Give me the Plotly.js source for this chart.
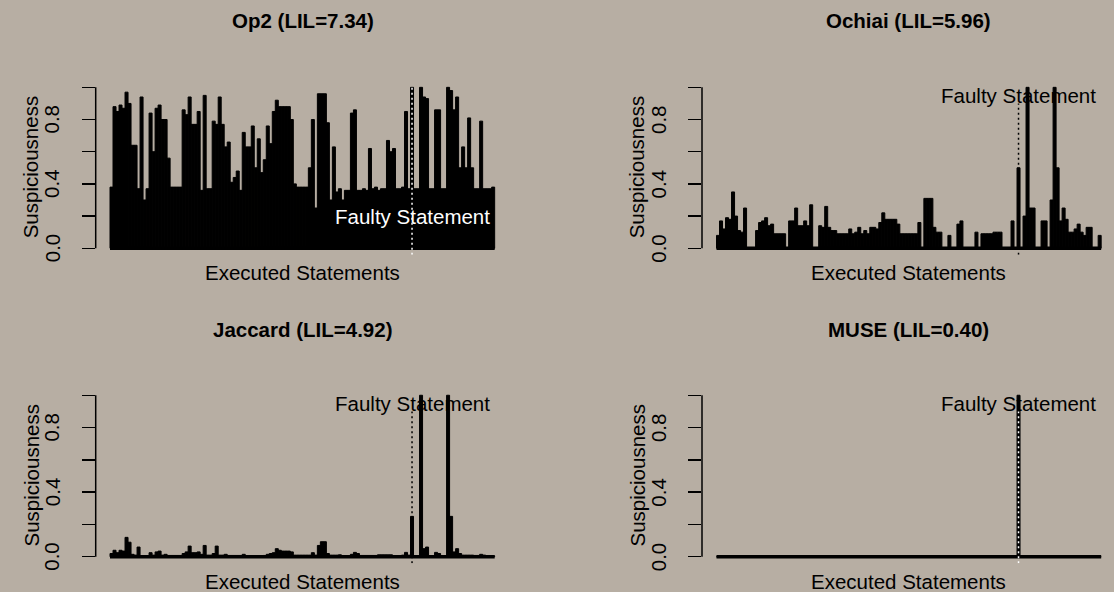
<!DOCTYPE html>
<html>
<head>
<meta charset="utf-8">
<script src="https://cdn.plot.ly/plotly-3.0.1.min.js"></script>
<style>
  html, body { margin: 0; padding: 0; background: #b7aea3; }
  #chart { width: 1114px; height: 592px; }
</style>
</head>
<body>
<div id="chart"></div>
<script>
// ---- data ----
const panelTitles = ["Op2 (LIL=7.34)", "Ochiai (LIL=5.96)", "Jaccard (LIL=4.92)", "MUSE (LIL=0.40)"];
const xLabel = "Executed Statements";
const yLabel = "Suspiciousness";
const faultyLabel = "Faulty Statement";
const faultyStatement = 101;
const yTickVals = [0, 0.2, 0.4, 0.6, 0.8, 1.0];
const yTickText = ["0.0", "", "0.4", "", "0.8", ""];

const op2 = [
  0.38,0.88,0.85,0.89,0.87,0.97,0.90,0.64,0.64,0.37,
  0.94,0.30,0.37,0.84,0.60,0.87,0.89,0.80,0.80,0.56,
  0.38,0.38,0.38,0.38,0.86,0.83,0.94,0.77,0.77,0.85,
  0.36,0.95,0.37,0.37,0.79,0.77,0.94,0.77,0.63,0.66,
  0.41,0.44,0.48,0.36,0.72,0.63,0.63,0.76,0.50,0.68,
  0.47,0.55,0.76,0.65,0.85,0.92,0.88,0.88,0.88,0.88,
  0.80,0.40,0.38,0.38,0.38,0.38,0.50,0.80,0.25,0.96,
  0.96,0.96,0.78,0.30,0.63,0.35,0.37,0.30,0.36,0.36,
  0.84,0.86,0.36,0.36,0.37,0.36,0.62,0.37,0.38,0.36,
  0.37,0.37,0.67,0.60,0.62,0.37,0.37,0.38,0.85,0.37,
  1.00,0.37,0.37,1.00,0.94,0.93,0.37,0.37,0.86,0.86,
  0.37,0.37,1.00,0.98,0.86,0.94,0.50,0.63,0.50,0.81,
  0.50,0.37,0.37,0.79,0.37,0.37,0.37,0.38
];
const ochiai = [
  0.08,0.17,0.12,0.19,0.18,0.35,0.20,0.11,0.10,0.25,
  0,0,0,0.11,0.16,0.17,0.19,0.14,0.15,0.09,
  0.09,0.09,0.09,0,0.17,0.17,0.25,0.14,0.14,0.17,
  0.14,0.27,0,0,0.14,0.13,0.26,0.13,0.11,0.11,
  0.09,0.09,0.09,0.09,0.12,0.09,0.10,0.13,0.09,0.11,
  0.09,0.13,0.13,0.12,0.16,0.22,0.18,0.18,0.18,0.18,
  0.15,0.09,0.09,0.09,0.09,0.09,0.09,0.16,0,0.31,
  0.31,0.31,0.13,0.10,0.10,0,0,0.08,0,0,
  0.15,0.17,0,0,0,0,0.10,0,0.09,0.09,
  0.09,0.09,0.10,0.10,0.10,0,0,0,0.17,0,
  0.50,0,0.20,1.00,0.25,0.25,0,0,0.17,0.17,
  0,0.30,1.00,0.50,0.17,0.25,0.18,0.10,0.10,0.12,
  0.15,0.10,0.08,0.13,0.13,0,0,0.08
];
const jaccard = [
  0.02,0.04,0.025,0.04,0.035,0.12,0.09,0.015,0.01,0.06,
  0.005,0.005,0.005,0.025,0.01,0.03,0.035,0.01,0.015,0.008,
  0.008,0.008,0.008,0.008,0.02,0.03,0.066,0.025,0.025,0.03,
  0.015,0.07,0.01,0.01,0.02,0.066,0.01,0.01,0.015,0.008,
  0.008,0.008,0.008,0.008,0.015,0.006,0.006,0.006,0.006,0.006,
  0.006,0.008,0.015,0.02,0.025,0.05,0.04,0.035,0.035,0.035,
  0.03,0.01,0.01,0.01,0.01,0.01,0.01,0.025,0.01,0.07,
  0.093,0.093,0.02,0.01,0.01,0.01,0.012,0.006,0.006,0.006,
  0.015,0.027,0.02,0.008,0.008,0.008,0.008,0.008,0.008,0.012,
  0.012,0.012,0.012,0.012,0.006,0.006,0.006,0.01,0.027,0.01,
  0.25,0.004,0.004,1.0,0.05,0.06,0.005,0.005,0.027,0.02,
  0.005,0.005,1.0,0.25,0.03,0.05,0.02,0.01,0.01,0.01,
  0.01,0.008,0.008,0.015,0.01,0.005,0.005,0.005
];
const muse = [
  0,0,0,0,0,0,0,0,0,0,
  0,0,0,0,0,0,0,0,0,0,
  0,0,0,0,0,0,0,0,0,0,
  0,0,0,0,0,0,0,0,0,0,
  0,0,0,0,0,0,0,0,0,0,
  0,0,0,0,0,0,0,0,0,0,
  0,0,0,0,0,0,0,0,0,0,
  0,0,0,0,0,0,0,0,0,0,
  0,0,0,0,0,0,0,0,0,0,
  0,0,0,0,0,0,0,0,0,0,
  1,0,0,0,0,0,0,0,0,0,
  0,0,0,0,0,0,0,0,0,0,
  0,0,0,0,0,0,0,0
];
const statements = op2.map((_, i) => i + 1);

// ---- layout helpers ----
const W = 1114, H = 592;
const FONT = "Liberation Sans, Arial, Helvetica, sans-serif";
const FS = 20.5;
const px = v => v / W;
const py = v => 1 - v / H;

const series = [op2, ochiai, jaccard, muse];
const panels = [
  {xd: [px(95.7), px(510.6)], xr: [-4.26, 133.8], yd: [py(254.7), py(80.9)], cx: 302.6, ty: 20.5, lx: 272, yl: 30.5, tl: 52, ylc: 167.8, faultY: 0.2, faultCol: "#ffffff", lineCol: "#ffffff", lineTop: 1.0},
  {xd: [px(702), 1], xr: [-4.33, 132.77], yd: [py(254.7), py(80.9)], cx: 908.5, ty: 20.5, lx: 272, yl: 636.5, tl: 658.5, ylc: 167.8, faultY: 0.95, faultCol: "#000000", lineCol: "#000000", lineTop: 0.9},
  {xd: [px(95.7), px(510.6)], xr: [-4.26, 133.8], yd: [py(563.2), py(388.8)], cx: 302.6, ty: 329, lx: 581.5, yl: 30.5, tl: 52, ylc: 476, faultY: 0.95, faultCol: "#000000", lineCol: "#000000", lineTop: 0.9},
  {xd: [px(702), 1], xr: [-4.33, 132.77], yd: [py(563.2), py(388.8)], cx: 908.5, ty: 329, lx: 581.5, yl: 636.5, tl: 658.5, ylc: 476, faultY: 0.95, faultCol: "#000000", lineCol: "#ffffff", lineTop: 0.9}
];

const traces = [];
const layout = {
  width: W, height: H,
  margin: {l: 0, r: 0, t: 0, b: 0},
  paper_bgcolor: "#b7aea3",
  plot_bgcolor: "rgba(0,0,0,0)",
  showlegend: false,
  bargap: 0,
  font: {family: FONT, size: FS, color: "#000"},
  annotations: [],
  shapes: []
};

panels.forEach((p, k) => {
  const n = k + 1;
  const xa = n === 1 ? "x" : "x" + n;
  const ya = n === 1 ? "y" : "y" + n;
  traces.push({
    type: "bar", x: statements, y: series[k], xaxis: xa, yaxis: ya,
    width: 1, marker: {color: "#000", line: {color: "#000", width: 1}},
    hoverinfo: "skip"
  });
  layout["xaxis" + (n === 1 ? "" : n)] = {
    domain: p.xd, range: p.xr, anchor: ya, visible: false, fixedrange: true
  };
  layout["yaxis" + (n === 1 ? "" : n)] = {
    domain: p.yd, range: [-0.04, 1.04], anchor: xa,
    tickvals: yTickVals, ticks: "outside", ticklen: 13, tickwidth: 1.5, tickcolor: "#000",
    showticklabels: false,
    showgrid: false, zeroline: false, showline: false, fixedrange: true
  };
  // tick labels parallel to the axis (R style)
  yTickVals.forEach((v, j) => {
    if (!yTickText[j]) return;
    layout.annotations.push({xref: "paper", yref: ya, x: px(p.tl), y: v, text: yTickText[j], textangle: -90, showarrow: false, xanchor: "center", yanchor: "middle", font: {family: FONT, size: FS, color: "#000"}});
  });
  // axis line from 0 to 1 only
  layout.shapes.push({type: "line", xref: xa + " domain", yref: ya, x0: 0, x1: 0, y0: 0, y1: 1, line: {color: "#000", width: 1.5}});
  // baseline at zero across statements
  layout.shapes.push({type: "line", xref: xa, yref: ya, x0: statements[0] - 0.5, x1: statements[statements.length - 1] + 0.5, y0: 0, y1: 0, line: {color: "#000", width: 3.5}});
  // faulty statement marker
  layout.shapes.push({type: "line", xref: xa, yref: ya, x0: faultyStatement, x1: faultyStatement, y0: -0.04, y1: p.lineTop, line: {color: p.lineCol, width: 1.5, dash: "2px,3px"}});
  // texts
  layout.annotations.push({xref: "paper", yref: "paper", x: px(p.cx), y: py(p.ty), text: "<b>" + panelTitles[k] + "</b>", showarrow: false, xanchor: "center", yanchor: "middle", font: {family: FONT, size: FS, color: "#000"}});
  layout.annotations.push({xref: "paper", yref: "paper", x: px(p.cx), y: py(p.lx), text: xLabel, showarrow: false, xanchor: "center", yanchor: "middle", font: {family: FONT, size: FS, color: "#000"}});
  layout.annotations.push({xref: "paper", yref: "paper", x: px(p.yl), y: py(p.ylc), text: yLabel, textangle: -90, showarrow: false, xanchor: "center", yanchor: "middle", font: {family: FONT, size: FS, color: "#000"}});
  layout.annotations.push({xref: xa, yref: ya, x: faultyStatement, y: p.faultY, text: faultyLabel, showarrow: false, xanchor: "center", yanchor: "middle", font: {family: FONT, size: FS, color: p.faultCol}});
});

Plotly.newPlot("chart", traces, layout, {staticPlot: true, displayModeBar: false});
</script>
</body>
</html>
